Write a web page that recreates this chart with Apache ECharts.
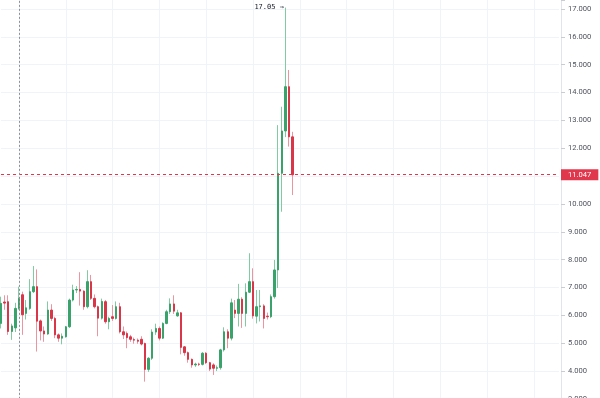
<!DOCTYPE html>
<html>
<head>
<meta charset="utf-8">
<script src="https://cdn.jsdelivr.net/npm/echarts@6/dist/echarts.min.js"></script>
<style>
html,body{margin:0;padding:0;background:#fff;}
#c{width:600px;height:398px;}
</style>
</head>
<body>
<div id="c"></div>
<script>
// ---- data ----
const opens = [5.71,6.48,6.49,5.42,5.55,6.25,6.74,6.07,6.25,6.85,
  7.03,5.80,5.44,5.33,6.19,5.89,5.30,5.18,5.23,5.59,
  6.55,6.91,6.93,6.87,6.31,7.21,6.61,6.31,5.90,6.49,
  5.77,5.95,5.89,6.31,5.41,5.35,5.23,5.13,5.11,5.14,
  4.99,4.06,4.46,5.40,5.53,5.18,5.71,6.13,6.41,5.98,
  6.09,4.87,4.66,4.42,4.22,4.25,4.24,4.64,4.30,4.22,
  4.10,4.12,4.76,5.41,5.18,6.19,6.07,6.58,6.07,6.83,
  7.21,5.97,6.31,6.34,5.97,5.95,6.67,7.63,11.10,12.62,
  14.21,12.41];
const closes = [6.43,6.44,5.42,5.62,6.25,6.61,6.02,6.27,6.85,7.03,
  5.79,5.44,5.33,6.19,5.89,5.30,5.18,5.25,5.59,6.55,
  6.91,6.93,6.87,6.31,7.21,6.61,6.31,5.90,6.50,5.77,
  5.89,5.89,6.31,5.41,5.30,5.20,5.14,5.11,5.07,4.97,
  4.06,4.46,5.40,5.53,5.18,5.71,6.13,6.41,6.15,6.09,
  4.85,4.66,4.42,4.22,4.25,4.24,4.64,4.30,4.07,4.10,
  4.12,4.76,5.41,5.18,6.45,6.07,6.58,6.07,6.83,7.21,
  5.98,6.31,6.34,5.89,5.95,6.67,7.63,11.10,12.62,14.21,
  12.41,11.047];
const lows = [5.53,6.20,5.30,5.12,5.40,6.20,5.30,5.85,6.20,6.80,
  4.70,5.10,5.05,5.30,5.80,5.18,5.05,4.96,5.20,5.55,
  6.50,6.80,6.35,6.20,6.25,6.55,6.25,5.25,5.85,5.70,
  5.50,5.80,5.85,5.35,5.15,4.82,5.05,4.98,4.98,4.92,
  3.62,3.97,4.40,5.30,5.10,5.15,5.68,6.05,6.05,5.95,
  4.60,4.55,4.30,4.12,4.15,4.18,4.20,4.25,4.00,3.86,
  4.00,4.05,4.70,4.82,5.10,5.90,5.60,5.55,5.60,6.80,
  5.88,5.71,5.78,5.53,5.85,5.90,6.60,6.98,9.72,12.40,
  12.06,10.32];
const highs = [6.67,6.72,6.72,5.70,6.45,7.03,6.85,6.55,7.30,7.77,
  7.65,5.85,5.60,6.50,6.40,5.95,5.35,5.35,5.62,6.60,
  7.10,7.05,7.55,6.90,7.62,7.45,6.75,6.35,6.60,6.55,
  5.95,6.37,6.50,6.45,5.60,5.42,5.30,5.20,5.17,5.25,
  5.02,4.50,5.50,5.70,5.60,5.75,6.20,6.61,6.72,6.20,
  6.12,4.90,4.70,4.45,4.30,4.30,4.68,4.68,4.33,4.28,
  4.20,4.80,5.57,5.50,6.60,6.55,7.13,6.65,7.15,8.23,
  7.69,6.91,6.91,6.40,6.10,6.75,7.99,12.83,13.49,17.05,
  14.81,12.59];
const slotCount = 156;          // bar slots on the time axis (right part is empty)
const crosshairIndex = 5;       // bar under the vertical crosshair
const gridEvery = 13;           // vertical grid line every N bars
const priceMin = 3, priceMax = 17.323, priceStep = 1;

// ---- build ----
const categories = Array.from({length: slotCount}, (_, i) => 'b' + i);
const lastClose = closes[closes.length - 1];
const wickData = opens.map((o, i) => [o, closes[i], lows[i], highs[i]]);
const bodyData = opens.map((o, i) => [o, closes[i], Math.min(o, closes[i]), Math.max(o, closes[i])]);

const UP = '#3aa36b', DOWN = '#da3649', UPW = '#82caa2', DOWNW = '#ec95a0';
const GRID = '#f0f3f8';

const chart = echarts.init(document.getElementById('c'), null, {renderer: 'canvas'});
chart.setOption({
  animation: false,
  backgroundColor: '#ffffff',
  grid: {left: 1, width: 558, top: 0, height: 398.9, containLabel: false, outerBoundsMode: 'none'},
  xAxis: {
    type: 'category', data: categories, boundaryGap: false,
    axisLine: {show: false}, axisTick: {show: false}, axisLabel: {show: false},
    splitLine: {show: true, interval: (i) => i % gridEvery === crosshairIndex % gridEvery,
      lineStyle: {color: GRID, width: 1}}
  },
  yAxis: {
    type: 'value', position: 'right', offset: 2,
    min: priceMin, max: priceMax, interval: priceStep, scale: true,
    axisLine: {show: true, lineStyle: {color: '#e1e4ea'}},
    axisTick: {show: true, length: 4, lineStyle: {color: '#c9ccd3'}},
    axisLabel: {
      color: '#50535e', fontSize: 7.6, fontFamily: 'Roboto', margin: 7,
      formatter: (v) => Math.abs(v - Math.round(v)) < 1e-6 ? v.toFixed(3) : ''
    },
    splitLine: {show: true, showMaxLine: false, lineStyle: {color: GRID, width: 1}}
  },
  series: [
    {
      name: 'wick', type: 'candlestick', data: wickData, barWidth: 1,
      itemStyle: {color: UPW, color0: DOWNW, borderColor: UPW, borderColor0: DOWNW, borderWidth: 1},
      markPoint: {
        symbol: 'circle', symbolSize: 1,
        itemStyle: {color: 'rgba(0,0,0,0)'},
        label: {
          show: true, position: 'left', distance: 1,
          color: '#131722', fontSize: 7, fontFamily: 'DejaVu Sans Mono',
          formatter: (p) => Number(p.value).toFixed(2) + ' \u2192'
        },
        data: [{type: 'max', valueDim: 'highest'}]
      },
      markLine: {
        symbol: ['none', 'none'], silent: true,
        data: [
          {
            yAxis: lastClose,
            lineStyle: {color: '#e0374c', type: [3, 3], width: 1},
            label: {
              show: true, position: 'end', distance: 2,
              formatter: lastClose.toFixed(3),
              color: '#ffffff', backgroundColor: '#e0374c',
              fontSize: 7.6, fontFamily: 'Roboto', lineHeight: 9,
              padding: [1, 7, 1, 7]
            }
          },
          {
            xAxis: categories[crosshairIndex],
            lineStyle: {color: '#8e919a', type: [2, 2], width: 1},
            label: {show: false}
          }
        ]
      }
    },
    {
      name: 'body', type: 'candlestick', data: bodyData, barWidth: 2,
      itemStyle: {color: UP, color0: DOWN, borderColor: UP, borderColor0: DOWN, borderWidth: 1}
    }
  ]
});
</script>
</body>
</html>
